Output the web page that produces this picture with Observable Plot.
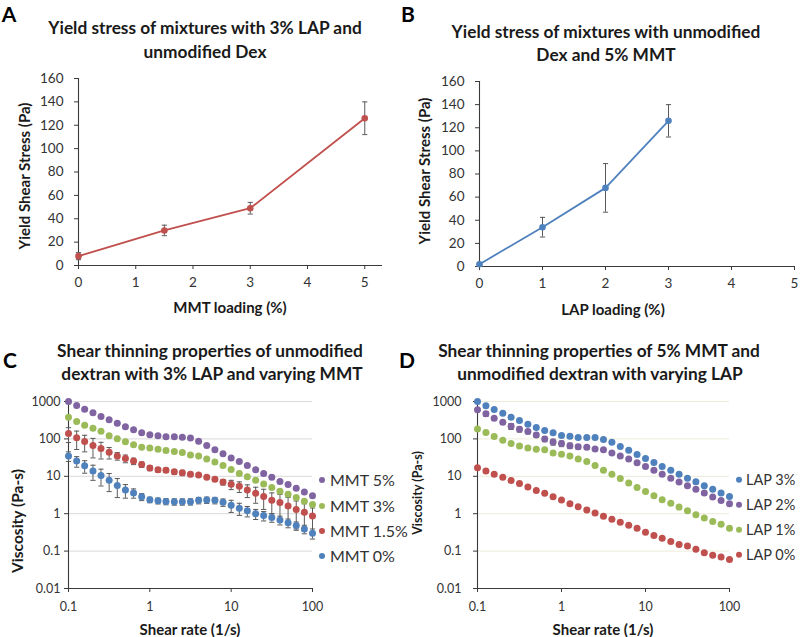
<!DOCTYPE html>
<html><head><meta charset="utf-8">
<script src="https://cdn.jsdelivr.net/npm/d3@7"></script>
<script src="https://cdn.jsdelivr.net/npm/@observablehq/plot@0.6"></script>
<style>
html,body{margin:0;padding:0;background:#fff;}
#root{position:relative;width:800px;height:637px;overflow:hidden;font-family:Lato,"Open Sans",sans-serif;color:#222;}
.abs{position:absolute;white-space:nowrap;line-height:1;}
.title{font-weight:700;font-size:17.3px;color:#1a1a1a;transform:translate(-50%,-50%);}
.letter{font-weight:700;font-size:21px;color:#000;transform:translate(-50%,-50%);}
.axt{font-weight:700;font-size:15px;color:#1a1a1a;transform:translate(-50%,-50%);}
.axty{font-weight:700;font-size:15px;color:#1a1a1a;transform:translate(-50%,-50%) rotate(-90deg);}
.leg{font-size:16px;color:#333;transform:translateY(-50%);display:flex;align-items:center;}
.leg span.sw{display:inline-block;width:6px;height:6px;border-radius:50%;}
.plotwrap{position:absolute;}
</style></head><body><div id="root"></div>
<script>
// ---------- DATA ----------
// Panel A: yield stress vs MMT loading (3% LAP, unmodified Dex)
const mmtLoading = [0, 1.5, 3, 5];
const yieldStressA = [8, 30, 49, 126];
const yieldErrA = [3, 4.5, 5, 14];
// Panel B: yield stress vs LAP loading (unmodified Dex, 5% MMT)
const lapLoading = [0, 1, 2, 3];
const yieldStressB = [2, 34, 68, 126];
const yieldErrB = [1.5, 8.5, 21, 14];
const loadingTicks = [0, 1, 2, 3, 4, 5];
const stressTicks = [0, 20, 40, 60, 80, 100, 120, 140, 160];

// Shear rates (1/s)
const shearRate = [0.1, 0.126, 0.158, 0.2, 0.251, 0.316, 0.398, 0.501, 0.631, 0.794,
  1, 1.26, 1.58, 2, 2.51, 3.16, 3.98, 5.01, 6.31, 7.94,
  10, 12.6, 15.8, 20, 25.1, 31.6, 39.8, 50.1, 63.1, 79.4, 100];

// Panel C: varying MMT (3% LAP)
const seriesC = ["MMT 5%", "MMT 3%", "MMT 1.5%", "MMT 0%"];
const viscMMT5 = [1000, 782, 624, 498, 398, 324, 264, 210, 175, 146, 129, 121, 114, 114, 111, 106, 87, 67, 51, 40, 31, 25, 19.5, 15, 11.9, 9.4, 7.3, 6.0, 4.8, 3.8, 3.0];
const viscMMT3 = [381, 292, 233, 194, 161, 121, 101, 84, 70, 60, 57, 53, 49, 46, 43, 37, 35, 29, 24, 19.5, 15.3, 11.9, 9.7, 7.8, 6.2, 5.0, 4.0, 3.3, 2.7, 2.15, 1.75];
const viscMMT15 = [140, 107, 85, 67, 55, 44, 35, 30, 25.5, 20.7, 16.6, 14.9, 14.6, 13.2, 12.4, 11.3, 10.8, 9.5, 8.4, 7.0, 6.1, 5.4, 4.3, 3.5, 2.9, 2.3, 1.98, 1.61, 1.29, 1.09, 0.87];
const errMMT15 = [60, 55, 40, 36, 26, 15, 8, 7, 5, 3.5, 2.5, 2, 2, 2, 2, 1.5, 0.8, 0.8, 1, 1.2, 1.7, 1.7, 1.6, 1.6, 1.6, 1.3, 1.3, 1.1, 0.9, 0.75, 0.55];
const viscMMT0 = [35, 25.5, 19.1, 13.8, 10.5, 7.9, 5.7, 4.3, 3.6, 2.84, 2.36, 2.22, 2.13, 2.09, 2.09, 2.1, 2.28, 2.33, 2.28, 2.02, 1.68, 1.4, 1.19, 1.0, 0.89, 0.79, 0.68, 0.57, 0.48, 0.39, 0.30];
const errMMT0 = [10, 8, 7, 6, 5, 4, 3, 1.7, 1.0, 0.6, 0.4, 0.4, 0.4, 0.4, 0.4, 0.4, 0.45, 0.45, 0.45, 0.45, 0.6, 0.5, 0.37, 0.3, 0.25, 0.2, 0.18, 0.15, 0.12, 0.1, 0.09];

// Panel D: varying LAP (5% MMT)
const seriesD = ["LAP 3%", "LAP 2%", "LAP 1%", "LAP 0%"];
const viscLAP3 = [1000, 765, 611, 487, 381, 310, 247, 201, 167, 145, 123, 118, 109, 109, 109, 96, 81, 63, 50, 38, 30, 23.4, 18.3, 14.6, 11.4, 8.9, 7.1, 5.6, 4.5, 3.6, 2.9];
const viscLAP2 = [598, 468, 358, 280, 218, 182, 157, 128, 100, 83, 75, 66, 62, 60, 54, 51, 42, 35, 29, 23, 18.3, 14.6, 11.4, 8.9, 7.0, 5.6, 4.5, 3.6, 2.8, 2.27, 1.85];
const errLAP2 = [0, 70, 40, 30, 40, 30, 20, 18, 16, 15, 13, 11, 9, 7, 0, 0, 0, 0, 0, 0, 0, 0, 0, 0, 0, 0, 0, 0, 0, 0, 0];
const viscLAP1 = [185, 148, 116, 92, 75, 65, 57, 53, 51, 42, 39, 35, 29, 25, 19.3, 14.6, 11.4, 8.8, 6.6, 5.0, 3.9, 3.0, 2.36, 1.89, 1.5, 1.2, 0.94, 0.77, 0.62, 0.52, 0.41];
const viscLAP0 = [17, 13.9, 11.3, 9.4, 7.7, 6.4, 5.2, 4.2, 3.5, 2.85, 2.32, 1.85, 1.54, 1.25, 1.04, 0.85, 0.71, 0.59, 0.49, 0.41, 0.32, 0.26, 0.22, 0.18, 0.15, 0.137, 0.112, 0.091, 0.077, 0.070, 0.06];

const logYTicks = [0.01, 0.1, 1, 10, 100, 1000];
const logYLabels = ["0.01", "0.1", "1", "10", "100", "1000"];
const logXTicks = [0.1, 1, 10, 100];
const logXLabels = ["0.1", "1", "10", "100"];

// ---------- STYLE ----------
const colRed = "#C0504D", colBlue = "#4F81BD", colGreen = "#9BBB59", colPurple = "#8064A2";
const colorsC = [colPurple, colGreen, colRed, colBlue];
const colorsD = [colBlue, colPurple, colGreen, colRed];
const axisColor = "#3a3a3a";
const errColor = "#5a5a5a";
const capSymbol = {draw(ctx) { const w = 2.6; ctx.moveTo(-w, 0); ctx.lineTo(w, 0); }};

const root = document.getElementById("root");
function place(el, left, top) { el.style.left = left + "px"; el.style.top = top + "px"; root.appendChild(el); return el; }
function text(cls, str, x, y, extra) {
  const d = document.createElement("div"); d.className = "abs " + cls; d.textContent = str;
  if (extra) Object.assign(d.style, extra);
  return place(d, x, y);
}
function addPlot(svg, left, top) {
  const w = document.createElement("div"); w.className = "plotwrap"; w.appendChild(svg); place(w, left, top);
}

// ---------- PANELS A/B ----------
function linePanel(xs, ys, es, color, opts) {
  const data = xs.map((x, i) => ({x, y: ys[i], lo: ys[i] - es[i], hi: ys[i] + es[i]}));
  return Plot.plot({
    width: opts.width, height: opts.height,
    marginLeft: opts.ml, marginRight: opts.mr, marginTop: opts.mt, marginBottom: opts.mb,
    style: {fontFamily: "Lato, 'Open Sans', sans-serif", fontSize: "13.5px", color: "#333", background: "transparent", overflow: "visible"},
    x: {domain: opts.xDomain, ticks: loadingTicks},
    y: {domain: [0, 160], ticks: stressTicks},
    marks: [
      Plot.ruleX([opts.xDomain[0]], {stroke: axisColor, strokeWidth: 1.1}),
      Plot.ruleY([0], {stroke: axisColor, strokeWidth: 1.1}),
      Plot.axisX({ticks: loadingTicks, tickSize: 4, tickPadding: 8, label: null, tickFormat: d => String(d), stroke: axisColor}),
      Plot.axisY({ticks: stressTicks, tickSize: 4, tickPadding: 11, label: null, tickFormat: d => String(d), stroke: axisColor}),
      Plot.line(data, {x: "x", y: "y", stroke: color, strokeWidth: 1.8}),
      Plot.ruleX(data, {x: "x", y1: "lo", y2: "hi", stroke: errColor, strokeWidth: 1}),
      Plot.dot(data, {x: "x", y: "lo", symbol: capSymbol, stroke: errColor, fill: "none", strokeWidth: 1}),
      Plot.dot(data, {x: "x", y: "hi", symbol: capSymbol, stroke: errColor, fill: "none", strokeWidth: 1}),
      Plot.dot(data, {x: "x", y: "y", fill: color, r: 3.3})
    ]
  });
}

addPlot(linePanel(mmtLoading, yieldStressA, yieldErrA, colRed,
  {width: 400, height: 260, ml: 78, mr: 18, mt: 10, mb: 63, xDomain: [0, 5.31]}), 0, 68);
addPlot(linePanel(lapLoading, yieldStressB, yieldErrB, colBlue,
  {width: 400, height: 260, ml: 79, mr: 6, mt: 13, mb: 62, xDomain: [0, 5]}), 400, 68);

// ---------- PANELS C/D ----------
function logPanel(series, values, errs, colors, opts) {
  const pts = [], bars = [];
  series.forEach((s, k) => {
    values[k].forEach((v, i) => {
      pts.push({s, x: shearRate[i], y: v});
      const e = errs[k] ? errs[k][i] : 0;
      if (e > 0) bars.push({s, x: shearRate[i], lo: v - e, hi: v + e});
    });
  });
  const order = series.slice().reverse();
  pts.sort((a, b) => order.indexOf(a.s) - order.indexOf(b.s));
  return Plot.plot({
    width: opts.width, height: opts.height,
    marginLeft: opts.ml, marginRight: opts.mr, marginTop: opts.mt, marginBottom: opts.mb,
    style: {fontFamily: "Lato, 'Open Sans', sans-serif", fontSize: "12.5px", color: "#333", background: "transparent", overflow: "visible"},
    x: {type: "log", domain: [0.1, 100]},
    y: {type: "log", domain: [0.01, 1000]},
    color: {domain: series, range: colors},
    marks: [
      Plot.ruleY(logYTicks.slice(1), {stroke: opts.grid, strokeWidth: 1}),
      Plot.ruleX([0.1], {stroke: axisColor, strokeWidth: 1.1}),
      Plot.ruleY([0.01], {stroke: axisColor, strokeWidth: 1.1}),
      Plot.axisX({ticks: logXTicks, tickSize: 4, tickPadding: 10, label: null, tickFormat: d => logXLabels[logXTicks.indexOf(d)], stroke: axisColor}),
      Plot.axisY({ticks: logYTicks, tickSize: 4, tickPadding: opts.yPad, label: null, tickFormat: d => logYLabels[logYTicks.indexOf(d)], stroke: axisColor}),
      Plot.ruleX(bars, {x: "x", y1: "lo", y2: "hi", stroke: errColor, strokeWidth: 1}),
      Plot.dot(bars, {x: "x", y: "lo", symbol: capSymbol, stroke: errColor, fill: "none", strokeWidth: 1}),
      Plot.dot(bars, {x: "x", y: "hi", symbol: capSymbol, stroke: errColor, fill: "none", strokeWidth: 1}),
      Plot.dot(pts, {x: "x", y: "y", fill: "s", r: 3.5})
    ]
  });
}

addPlot(logPanel(seriesC, [viscMMT5, viscMMT3, viscMMT15, viscMMT0], [null, null, errMMT15, errMMT0], colorsC,
  {width: 320, height: 249, ml: 68, mr: 8, mt: 13, mb: 49, grid: "#d9d9d9", yPad: 4}), 0, 388);
addPlot(logPanel(seriesD, [viscLAP3, viscLAP2, viscLAP1, viscLAP0], [null, errLAP2, null, null], colorsD,
  {width: 340, height: 249, ml: 77, mr: 11, mt: 13, mb: 49, grid: "#ecebd8", yPad: 12}), 400, 388);

// ---------- TEXT ----------
text("letter", "A", 9, 13);
text("letter", "B", 408, 13);
text("letter", "C", 10, 359);
text("letter", "D", 407, 359);

text("title", "Yield stress of mixtures with 3% LAP and", 205, 28);
text("title", "unmodified Dex", 205, 52);
text("title", "Yield stress of mixtures with unmodified", 606, 32);
text("title", "Dex and 5% MMT", 606, 55);
text("title", "Shear thinning properties of unmodified", 210, 351);
text("title", "dextran with 3% LAP and varying MMT", 212, 374);
text("title", "Shear thinning properties of 5% MMT and", 599, 351);
text("title", "unmodified dextran with varying LAP", 600, 374);

text("axty", "Yield Shear Stress (Pa)", 24, 176);
text("axt", "MMT loading (%)", 230, 307);
text("axty", "Yield Shear Stress (Pa)", 424, 171);
text("axt", "LAP loading (%)", 613, 309);
text("axty", "Viscosity (Pa-s)", 18, 521, {fontSize: "15.5px"});
text("axt", "Shear rate (1/s)", 190, 629);
text("axty", "Viscosity (Pa-s)", 418, 493, {fontSize: "12.5px"});
text("axt", "Shear rate (1/s)", 603, 629);

function legend(series, colors, x, ys, fs, gap) {
  series.forEach((s, i) => {
    const d = document.createElement("div"); d.className = "abs leg"; d.style.fontSize = fs;
    const sw = document.createElement("span"); sw.className = "sw"; sw.style.background = colors[i];
    const t = document.createElement("span"); t.textContent = s; t.style.marginLeft = gap;
    d.appendChild(sw); d.appendChild(t);
    place(d, x, ys[i]);
  });
}
legend(seriesC, colorsC, 319, [480, 506, 531, 556], "16px", "5px");
legend(seriesD, colorsD, 736, [480, 505, 530, 555], "14.5px", "4px");
</script></body></html>
